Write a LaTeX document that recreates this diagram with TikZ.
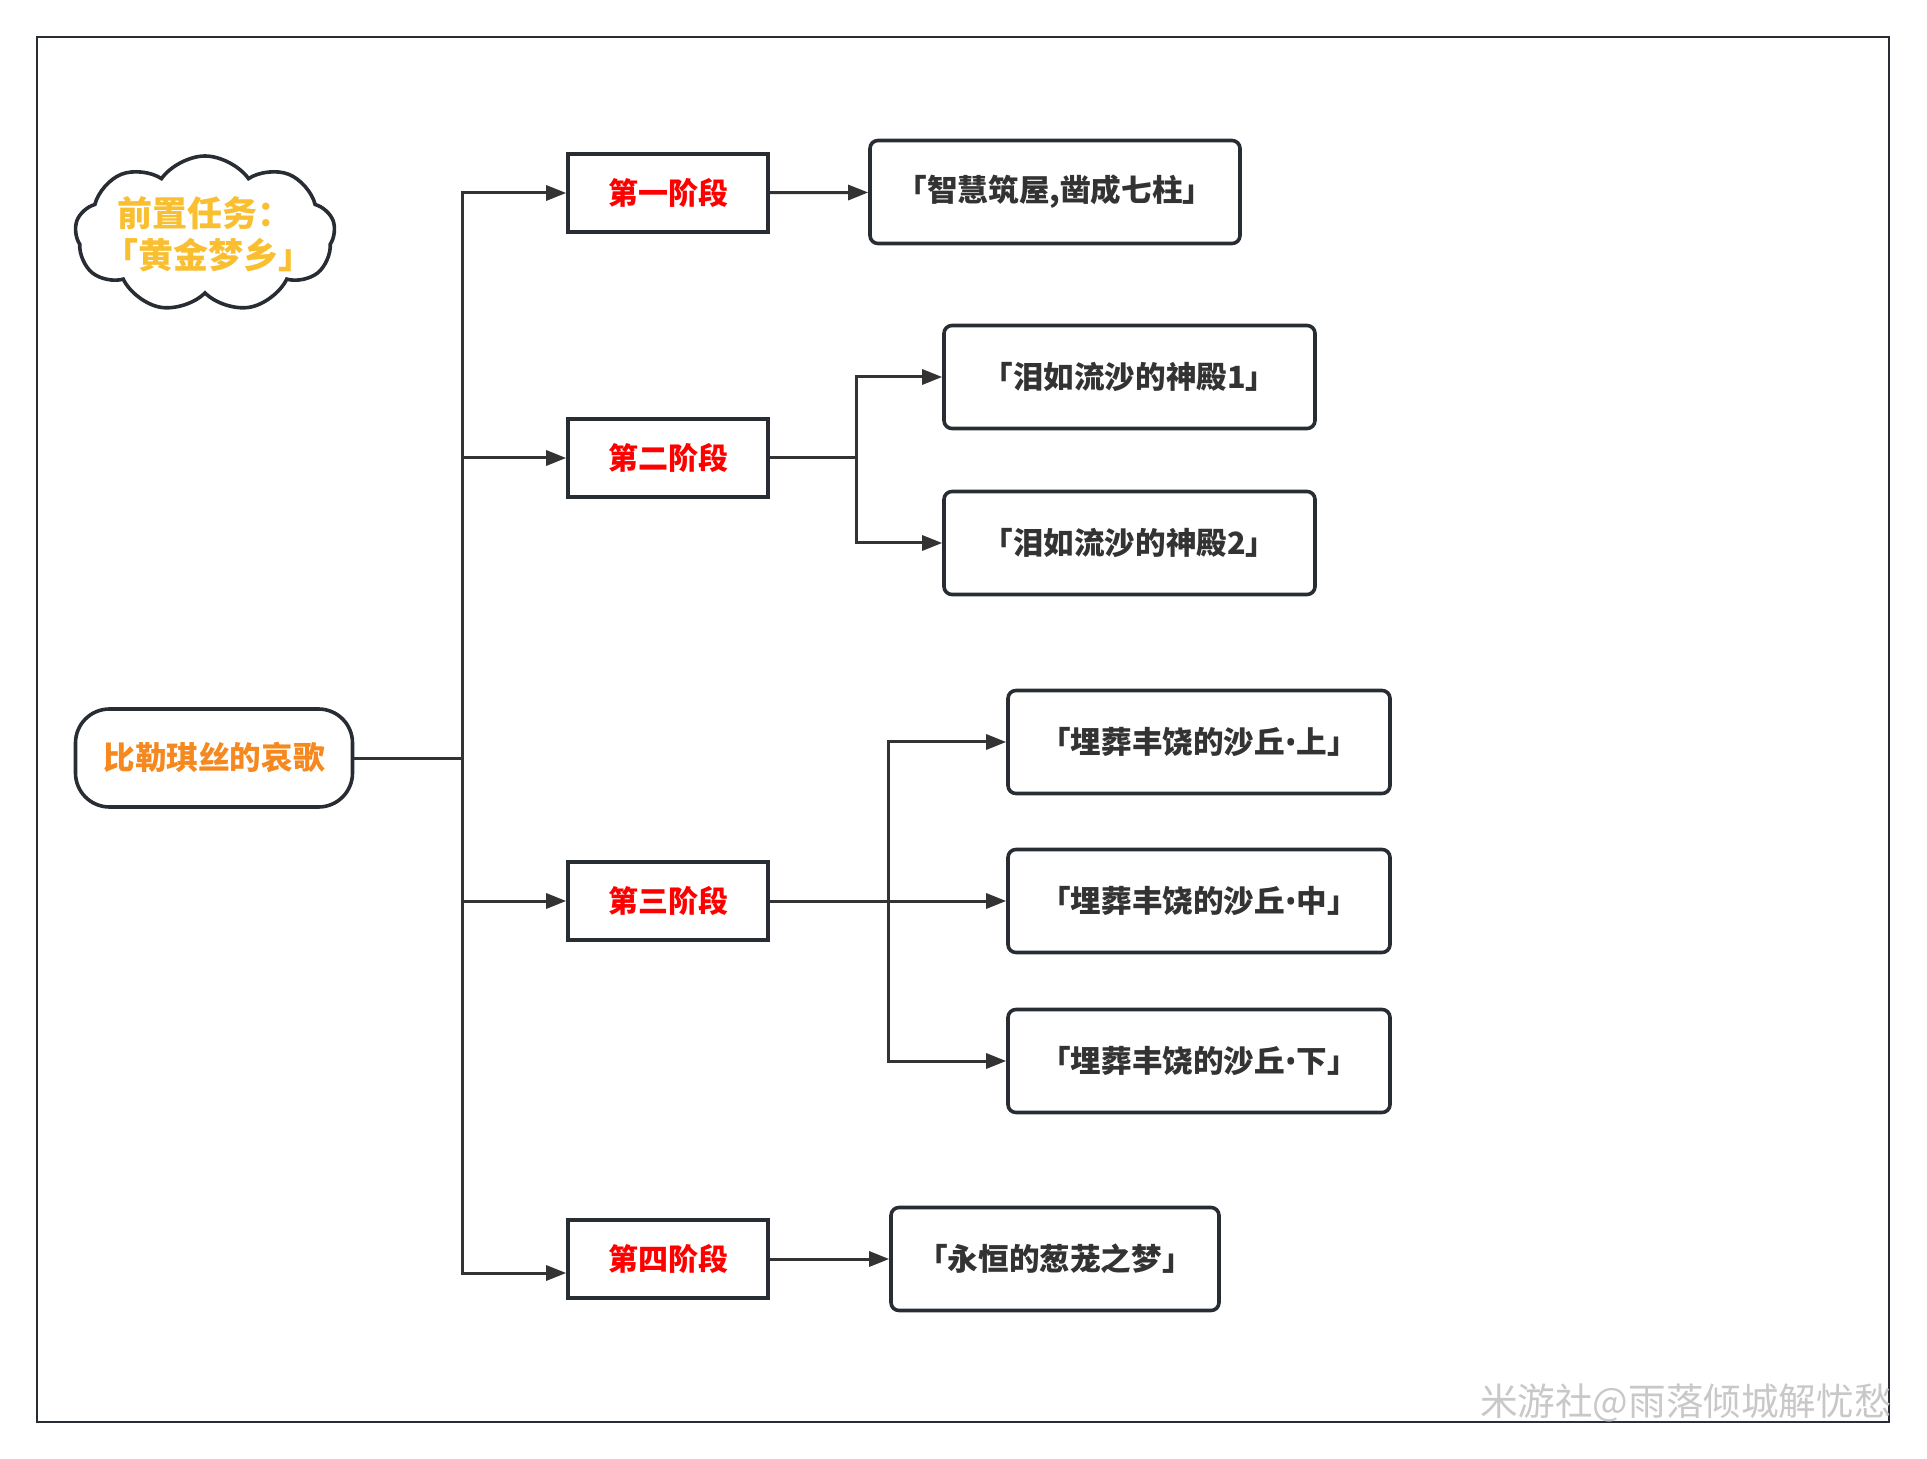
\documentclass[tikz,border=0pt]{standalone}
\usepackage{fontspec}
\setmainfont{Noto Sans CJK SC}
\newfontfamily\latinfont{Noto Sans}
\usetikzlibrary{arrows.meta, positioning, shapes.symbols}
\definecolor{linegray}{RGB}{51,51,51}
\definecolor{boxline}{RGB}{40,45,52}
\definecolor{stagered}{RGB}{255,0,0}
\definecolor{rootorange}{RGB}{245,137,31}
\definecolor{cloudgold}{RGB}{249,191,49}
\definecolor{marksilver}{RGB}{200,200,200}
\newcommand{\middot}{{\latinfont\bfseries •}}

\begin{document}
\begin{tikzpicture}[
  x=0.5pt, y=-0.5pt,
  every node/.style={font=\bfseries\fontsize{15.3pt}{18pt}\selectfont, align=center, inner sep=0pt},
  stagebox/.style={draw=boxline, line width=1.8pt, minimum width=100pt, minimum height=39pt, text=stagered,
    font=\bfseries\fontsize{15pt}{18pt}\selectfont},
  questbox/.style={draw=boxline, line width=1.8pt, rounded corners=4pt, minimum height=51.5pt, text=linegray},
  arr/.style={-{Triangle[length=10pt, width=7.5pt]}, line width=1.5pt, color=linegray}
]
\useasboundingbox (0,0) rectangle (1927,1459);
\draw[boxline, line width=1.4pt] (37,37) rectangle (1889,1422);

% Prerequisite and root
\node (prereq) [cloud, cloud puffs=9, cloud puff arc=110, aspect=1.65, draw=boxline, line width=1.8pt,
  inner sep=-15pt, minimum width=130pt, minimum height=78pt, text=cloudgold, align=left,
  font=\bfseries\fontsize{17.5pt}{21pt}\selectfont] at (205,234)
  {前置任务：\\\hspace*{-6.8pt}「黄金梦乡」\hspace*{-12pt}};
\node (root) [draw=boxline, line width=1.8pt, rounded corners=17pt, minimum width=138.5pt,
  minimum height=49pt, text=rootorange, font=\bfseries\fontsize{15.8pt}{18pt}\selectfont] at (214,758) {比勒琪丝的哀歌};

% Stages
\node (s1) [stagebox] at (668,193) {第一阶段};
\node (s2) [stagebox] at (668,458) {第二阶段};
\node (s3) [stagebox] at (668,901) {第三阶段};
\node (s4) [stagebox] at (668,1259) {第四阶段};

% Quests
\node (wisdom) [questbox, minimum width=185pt] at (1055,192) {「智慧筑屋,凿成七柱」};
\node (tears1) [questbox, minimum width=185.5pt] at (1129.5,377) {「泪如流沙的神殿1」};
\node (tears2) [questbox, minimum width=185.5pt] at (1129.5,543) {「泪如流沙的神殿2」};
\node (dune1) [questbox, minimum width=191pt] at (1199,742) {「埋葬丰饶的沙丘\middot 上」};
\node (dune2) [questbox, minimum width=191pt] at (1199,901) {「埋葬丰饶的沙丘\middot 中」};
\node (dune3) [questbox, minimum width=191pt] at (1199,1061) {「埋葬丰饶的沙丘\middot 下」};
\node (dream) [questbox, minimum width=164pt] at (1055,1259) {「永恒的葱茏之梦」};

\node (watermark) [anchor=east, text=marksilver, font=\fontsize{18.8pt}{20pt}\selectfont] at (1892,1403) {米游社@雨落倾城解忧愁};

% Arrows
\draw[arr] (root.east) -- ++(108,0) |- (s1.west);
\draw[arr] (root.east) -- ++(108,0) |- (s2.west);
\draw[arr] (root.east) -- ++(108,0) |- (s3.west);
\draw[arr] (root.east) -- ++(108,0) |- ([yshift=-7pt]s4.west);
\draw[arr] (s1) -- (wisdom);
\draw[arr] (s2.east) -- ++(87,0) |- (tears1.west);
\draw[arr] (s2.east) -- ++(87,0) |- (tears2.west);
\draw[arr] (s3.east) -- ++(119,0) |- (dune1.west);
\draw[arr] (s3) -- (dune2);
\draw[arr] (s3.east) -- ++(119,0) |- (dune3.west);
\draw[arr] (s4) -- (dream);

\end{tikzpicture}
\end{document}
